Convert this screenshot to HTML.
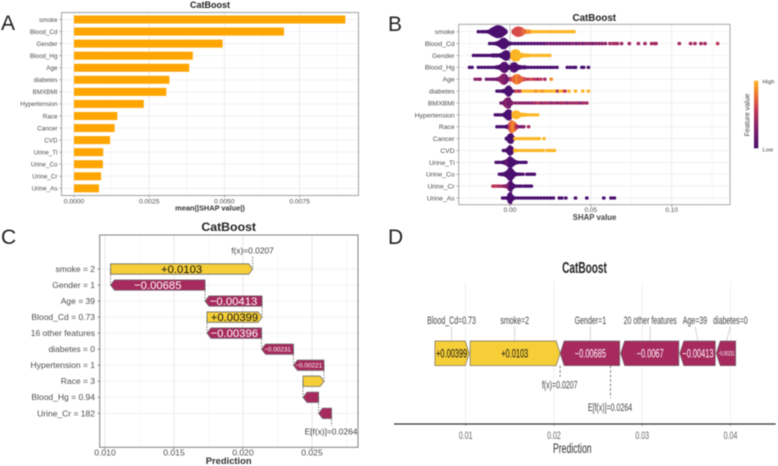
<!DOCTYPE html>
<html lang="en">
<head>
<meta charset="utf-8">
<title>CatBoost SHAP panels</title>
<style>
html,body{margin:0;padding:0;background:#fff;width:778px;height:466px;overflow:hidden}
svg{position:absolute;left:0;top:0;filter:blur(0.55px);font-family:"Liberation Sans",sans-serif}
</style>
</head>
<body>
<svg id="figure" width="778" height="466" viewBox="0 0 778 466" xmlns="http://www.w3.org/2000/svg">
  <defs>
    <linearGradient id="legendGradient" x1="0" y1="1" x2="0" y2="0">
      <stop offset="0" stop-color="#4a0e6e"/>
      <stop offset="0.35" stop-color="#8a2268"/>
      <stop offset="0.6" stop-color="#c93f52"/>
      <stop offset="0.8" stop-color="#ee7a30"/>
      <stop offset="1" stop-color="#fcb524"/>
    </linearGradient>
  </defs>

  <g id="panelA"></g>
  <g id="panelB"></g>
  <g id="panelC"></g>
  <g id="panelD"></g>

  <text x="1" y="30" font-size="21" fill="#222">A</text>
  <text x="388" y="31" font-size="21" fill="#222">B</text>
  <text x="1" y="244" font-size="21" fill="#222">C</text>
  <text x="388" y="244" font-size="21" fill="#222">D</text>

  <text x="210" y="8" font-size="9" font-weight="bold" text-anchor="middle" fill="#222">CatBoost</text>
  <text x="210" y="210.5" font-size="7.4" font-weight="bold" text-anchor="middle" fill="#333">mean(|SHAP value|)</text>

  <text x="594.3" y="21" font-size="9.8" font-weight="bold" text-anchor="middle" fill="#222">CatBoost</text>
  <text x="594.6" y="220" font-size="7.8" font-weight="bold" text-anchor="middle" fill="#444">SHAP value</text>
  <rect x="754" y="80.7" width="4.3" height="67.6" fill="url(#legendGradient)"/>
  <text x="762.5" y="83.5" font-size="5.8" fill="#444">High</text>
  <text x="762.5" y="151.5" font-size="5.8" fill="#444">Low</text>
  <text x="0" y="0" transform="translate(749.5,115) rotate(-90)" font-size="7" text-anchor="middle" fill="#444">Feature value</text>

  <text x="228.7" y="231" font-size="12.3" font-weight="bold" text-anchor="middle" fill="#222">CatBoost</text>
  <text x="228.7" y="464" font-size="9.4" font-weight="bold" text-anchor="middle" fill="#333">Prediction</text>
  <text x="252.5" y="253.5" font-size="8.4" text-anchor="middle" fill="#444">f(x)=0.0207</text>
  <text x="331" y="434.7" font-size="8.4" text-anchor="middle" fill="#444">E[f(x)]=0.0264</text>

  <text transform="translate(584.5,273) scale(0.63,1)" font-size="16" font-weight="bold" text-anchor="middle" fill="#222">CatBoost</text>
  <text transform="translate(572.3,453) scale(0.63,1)" font-size="13.8" text-anchor="middle" fill="#333">Prediction</text>
  <text transform="translate(559.7,388.5) scale(0.64,1)" font-size="11" text-anchor="middle" fill="#444">f(x)=0.0207</text>
  <text transform="translate(610,411) scale(0.64,1)" font-size="11" text-anchor="middle" fill="#444">E[f(x)]=0.0264</text>
</svg>

<script>
/* ---------- Panel A data ---------- */
const barFeatures = ['smoke','Blood_Cd','Gender','Blood_Hg','Age','diabetes','BMXBMI','Hypertension','Race','Cancer','CVD','Urine_Tl','Urine_Co','Urine_Cr','Urine_As'];
const barValues = [0.00902,0.00698,0.00494,0.00395,0.00383,0.00317,0.00307,0.00232,0.00144,0.00135,0.0012,0.00097,0.00096,0.0009,0.00083];
const barTicks = [0,0.0025,0.005,0.0075];
const barTickLabels = ['0.0000','0.0025','0.0050','0.0075'];

/* ---------- Panel B data: SHAP value, stacked observations, feature-value decile ---------- */
const swarmFeatures = ['smoke','Blood_Cd','Gender','Blood_Hg','Age','diabetes','BMXBMI','Hypertension','Race','Cancer','CVD','Urine_Tl','Urine_Co','Urine_Cr','Urine_As'];
const swarmTicks = [0,0.05,0.1];
const swarmTickLabels = ['0.00','0.05','0.10'];

const smokeShap = [-.0195,-.0175,-.016,-.0145,-.0132,-.012,-.011,-.01,-.009,-.008,-.007,-.006,-.005,-.004,-.003,-.0025,.002,.003,.004,.005,.006,.007,.008,.009,.01,.011,.012,.014,.016,.018,.02,.022,.024,.026,.028,.03,.032,.034,.036,.038,.0395];
const smokeCount = [1,1,1,1,2,4,7,9,11,13,13,12,10,7,4,1,3,6,9,10,9,8,5,3,2,2,2,1];
const smokeLevel = [0,0,0,0,0,0,0,0,0,0,0,0,0,0,0,0,6,6,6,6,6,6,7,7,7,8,8,9];

const cadmiumShap = [-.0125,-.0105,-.0085,-.0075,-.0065,-.0055,-.0045,-.0035,-.0025,-.0015,-.0005,.001,.003,.005,.007,.009,.011,.013,.015,.017,.019,.021,.023,.025,.027,.029,.031,.033,.035,.037,.039,.041,.043,.045,.047,.049,.051,.053,.055,.057,.059,.0618,.0639,.0655,.0664,.069,.0738,.0794,.0835,.0876,.0895,.0903,.1047,.1117,.1144,.1181,.1206,.1284];
const cadmiumCount = [1,1,2,3,5,8,11,11,8,4,2,1];
const cadmiumLevel = [0,0,0,0,0,0,0,0,0,0,0,0,0,0,0,0,1,1,1,1,1,1,2,2,2,2,2,2,2,2,3,2,3,2,3,3,2,3,3,3,3,4,4,4,4,4,4,4,4,4,4,4,4,4,4,4,4,5];

const genderShap = [-.0225,-.0205,-.0185,-.0165,-.0145,-.0125,-.0105,-.0085,-.0065,-.0055,-.0045,-.0035,-.0025,-.0015,-.0007,.0012,.002,.003,.004,.005,.006,.0075,.009,.011,.013,.015,.017,.019,.021,.023,.0245];
const genderCount = [1,1,1,1,1,1,2,2,2,3,5,8,10,9,4,6,10,12,12,10,5,3,2,2,1];
const genderLevel = [0,0,0,0,0,0,0,0,0,0,0,0,0,0,0,9];

const mercuryShap = [-.025,-.0235,-.0195,-.0175,-.0155,-.0135,-.0115,-.0095,-.008,-.0065,-.0055,-.0045,-.0035,-.0025,-.0015,-.0005,.0005,.0015,.0025,.0035,.0045,.0055,.007,.009,.011,.013,.015,.017,.019,.021,.023,.025,.027,.029,.0355,.0375,.0395,.0405,.0445,.0455,.0485];
const mercuryCount = [1,1,1,1,1,1,1,1,2,3,5,9,11,9,4,2,3,8,10,8,4,3,2,2,1];
const mercuryLevel = [0,0,0,0,0,0,0,0,0,0,0,1,1,1,0,0,0,0,1,0,0];

const ageShap = [-.0215,-.0195,-.0185,-.0145,-.0125,-.0105,-.009,-.0075,-.0065,-.0055,-.0045,-.0035,-.0025,-.0015,.0005,.0015,.0025,.0035,.0045,.0055,.0065,.0075,.009,.011,.013,.015,.017,.019,.0215,.0255];
const ageCount = [1,1,1,1,1,1,1,2,3,6,10,11,8,3,2,3,6,9,10,8,5,3,2,1];
const ageLevel = [3,3,3,2,2,2,2,2,3,3,3,3,2,2,5,6,7,7,8,7,7,7,6,5,6,5,4,5,4,8];

const diabetesShap = [-.008,-.0065,-.0055,-.0045,-.004,-.003,-.002,-.001,0,.0005,.0015,.0025,.0035,.0045,.0055,.0065,.008,.01,.012,.014,.016,.018,.02,.022,.024,.026,.028,.0295,.031,.033,.034,.0365,.0405,.045,.0485];
const diabetesCount = [1,1,1,1,2,3,7,11,8,4,1];
const diabetesLevel = [0,0,0,0,0,0,0,0,0,0,0,0,5,6,5,5,9,9,9,9,8,9,8,9,9,9,9,4,9,8,5,9,9,9,9];

const bmiShap = [-.0055,-.0045,-.0035,-.003,-.0025,-.0015,-.0005,.0005,.0015,.0035,.0055,.0075,.0095,.0115,.0135,.0155,.0175,.0195,.0215,.0235,.0255,.0275,.0295,.0315,.0335,.0355,.0375,.0395,.0415,.0435,.0455,.0475];
const bmiCount = [1,1,3,5,8,11,10,4,1];
const bmiLevel = [2,2,2,2,3,3,2,2,3,3,3,3,3,3,3,4,5,3,4,4,3,4,3,4,4,3,4,4,4,3,4,4];

const hypertensionShap = [-.009,-.0075,-.006,-.0045,-.0035,-.003,-.002,-.001,0,.0005,.002,.003,.004,.005,.006,.0075,.009,.011,.013,.015,.017];
const hypertensionCount = [1,1,1,1,2,4,8,11,9,3,4,7,8,6,3,2,2,1];
const hypertensionLevel = [0,0,0,0,0,0,0,0,0,0,9];

const raceShap = [-.008,-.0065,-.005,-.0035,-.002,-.001,0,.001,.002,.003,.004,.005,.0065,.008,.0085,.0115];
const raceCount = [1,1,1,1,2,3,8,13,11,8,3,1];
const raceLevel = [0,0,0,0,0,1,6,7,8,7,5,3,2,2,3,4];

const cancerShap = [-.0022,-.0015,-.0005,.0005,.001,.0018,.003,.005,.007,.009,.011,.013,.015,.017,.018,.021];
const cancerCount = [1,3,8,10,9,4,1];
const cancerLevel = [0,0,0,0,0,0,9];

const cvdShap = [-.004,-.003,-.002,-.001,0,.001,.0018,.003,.005,.007,.009,.011,.013,.015,.017,.019,.0205,.023,.0245,.026,.0275];
const cvdCount = [1,1,2,6,10,7,2,2,1];
const cvdLevel = [0,0,0,0,0,0,0,9];

const thalliumShap = [-.0085,-.007,-.0055,-.004,-.003,-.002,-.001,0,.001,.002,.003,.004,.0055,.007,.0085,.0098];
const thalliumCount = [1,1,1,2,3,5,8,12,9,6,3,2,1];
const thalliumLevel = [0,0,0,0,0,2,1,0];

const cobaltShap = [-.0065,-.0055,-.0045,-.0035,-.0025,-.0015,-.0005,.0005,.0015,.0025,.0035,.0045,.0055,.0065,.008,.0105,.012,.0135,.015];
const cobaltCount = [1,1,2,2,4,7,12,13,9,4,2,1];
const cobaltLevel = [0];

const creatinineShap = [-.0105,-.0095,-.008,-.0065,-.0055,-.0045,-.0035,-.0025,-.0015,-.0005,.0005,.0015,.0025,.004,.0055,.007,.009,.0105,.012,.0132];
const creatinineCount = [1,1,1,1,1,1,1,2,3,8,11,5,2,1];
const creatinineLevel = [5,5,5,4,5,4,3,3,3,2,0];

const arsenicShap = [-.0045,-.0035,-.0025,-.0015,-.0005,.0003,.0012,.002,.003,.005,.007,.009,.011,.013,.015,.017,.019,.021,.023,.025,.0268,.0305,.032,.0345,.0405,.0475,.058,.0625,.0645];
const arsenicCount = [1,1,1,2,9,12,5,2,1];
const arsenicLevel = [0];

const swarmShap = [smokeShap,cadmiumShap,genderShap,mercuryShap,ageShap,diabetesShap,bmiShap,hypertensionShap,raceShap,cancerShap,cvdShap,thalliumShap,cobaltShap,creatinineShap,arsenicShap];
const swarmCount = [smokeCount,cadmiumCount,genderCount,mercuryCount,ageCount,diabetesCount,bmiCount,hypertensionCount,raceCount,cancerCount,cvdCount,thalliumCount,cobaltCount,creatinineCount,arsenicCount];
const swarmLevel = [smokeLevel,cadmiumLevel,genderLevel,mercuryLevel,ageLevel,diabetesLevel,bmiLevel,hypertensionLevel,raceLevel,cancerLevel,cvdLevel,thalliumLevel,cobaltLevel,creatinineLevel,arsenicLevel];

/* ---------- Panel C data ---------- */
const waterfallLabels = ['smoke = 2','Gender = 1','Age = 39','Blood_Cd = 0.73','16 other features','diabetes = 0','Hypertension = 1','Race = 3','Blood_Hg = 0.94','Urine_Cr = 182'];
const waterfallValues = [0.0103,-0.00685,-0.00413,0.00399,-0.00396,-0.00231,-0.00221,0.00152,-0.00113,-0.00094];
const waterfallPrinted = ['+0.0103','\u22120.00685','\u22120.00413','+0.00399','\u22120.00396','\u22120.00231','\u22120.00221','','',''];
const waterfallPrediction = [0.0207];
const waterfallTicks = [0.01,0.015,0.02,0.025];
const waterfallTickLabels = ['0.010','0.015','0.020','0.025'];

/* ---------- Panel D data ---------- */
const forceLabels = ['Blood_Cd=0.73','smoke=2','Gender=1','20 other features','Age=39','diabetes=0'];
const forceValues = [0.00399,0.0103,-0.00685,-0.0067,-0.00413,-0.00231];
const forcePrinted = ['+0.00399','+0.0103','\u22120.00685','\u22120.0067','\u22120.00413','\u22120.00231'];
const forcePrediction = [0.0207];
const forceExpected = [0.0264];
const forceTicks = [0.01,0.02,0.03,0.04];
const forceTickLabels = ['0.01','0.02','0.03','0.04'];

/* ---------- Helpers ---------- */
const NS = 'http://www.w3.org/2000/svg';
function make(parent, tag, attrs, content) {
  const node = document.createElementNS(NS, tag);
  for (const key in attrs) node.setAttribute(key, attrs[key]);
  if (content !== undefined) node.textContent = content;
  parent.appendChild(node);
  return node;
}
const GOLD = '#f6ce38', MAROON = '#a62a5e', TEXT = '#4d4d4d';
const colorStops = [[74,14,110],[90,18,112],[114,26,110],[138,34,104],[163,42,98],[187,53,88],[214,74,76],[231,105,58],[245,143,39],[252,181,36]];
function levelColor(level) {
  const c = colorStops[Math.max(0, Math.min(9, Math.round(level)))];
  return 'rgb(' + c.join(',') + ')';
}

/* ---------- Panel A ---------- */
(function () {
  const g = document.getElementById('panelA');
  const left = 61.5, right = 358.5, top = 12.5, bottom = 195.5;
  const xA = v => 74 + v * 30080;
  const yA = i => 19.5 + i * 12.06;
  barTicks.forEach((t, i) => {
    const major = make(g, 'line', {x1: xA(t), x2: xA(t), y1: top, y2: bottom, stroke: '#e6e6e6', 'stroke-width': 0.8});
    
    
    const minor = make(g, 'line', {x1: xA(t + 0.00125), x2: xA(t + 0.00125), y1: top, y2: bottom, stroke: '#f1f1f1', 'stroke-width': 0.5});
    
    
    const tick = make(g, 'line', {x1: xA(t), x2: xA(t), y1: bottom, y2: bottom + 2, stroke: '#666', 'stroke-width': 0.6});
    
    
    const label = make(g, 'text', {x: xA(t), y: 203.3, 'font-size': 6.7, 'text-anchor': 'middle', fill: TEXT}, barTickLabels[i]);
    
    
  });
  barFeatures.forEach((name, i) => {
    const y = yA(i);
    const grid = make(g, 'line', {x1: left, x2: right, y1: y, y2: y, stroke: '#ececec', 'stroke-width': 0.7});
    
    
    const tick = make(g, 'line', {x1: left - 2, x2: left, y1: y, y2: y, stroke: '#666', 'stroke-width': 0.6});
    
    
    const label = make(g, 'text', {x: 57.5, y: y + 2.3, 'font-size': 6.3, 'text-anchor': 'end', fill: TEXT}, name);
    
    
    const bar = make(g, 'rect', {x: xA(0), y: y - 4, width: xA(barValues[i]) - xA(0), height: 8, fill: '#ffa500'});
    
    
  });
  const frame = make(g, 'rect', {x: left, y: top, width: right - left, height: bottom - top, fill: 'none', stroke: '#a0a0a0', 'stroke-width': 1});
  
  
})();

/* ---------- Panel B ---------- */
(function () {
  const g = document.getElementById('panelB');
  const left = 458.7, right = 730, top = 24.3, bottom = 204.7;
  const xB = v => 510 + v * 1617;
  const yB = i => 31.7 + i * 11.88;
  [-0.025, 0.025, 0.075, 0.125].forEach(v => {
    const minor = make(g, 'line', {x1: xB(v), x2: xB(v), y1: top, y2: bottom, stroke: '#f1f1f1', 'stroke-width': 0.5});
    
    
  });
  swarmTicks.forEach((t, i) => {
    const major = make(g, 'line', {x1: xB(t), x2: xB(t), y1: top, y2: bottom, stroke: t === 0 ? '#bdbdbd' : '#e6e6e6', 'stroke-width': 0.8});
    
    
    const tick = make(g, 'line', {x1: xB(t), x2: xB(t), y1: bottom, y2: bottom + 2, stroke: '#666', 'stroke-width': 0.6});
    
    
    const label = make(g, 'text', {x: xB(t), y: 212, 'font-size': 6.5, 'text-anchor': 'middle', fill: TEXT}, swarmTickLabels[i]);
    
    
  });
  swarmFeatures.forEach((name, i) => {
    const y = yB(i);
    const grid = make(g, 'line', {x1: left, x2: right, y1: y, y2: y, stroke: '#ececec', 'stroke-width': 0.7});
    
    
    const tick = make(g, 'line', {x1: left - 2, x2: left, y1: y, y2: y, stroke: '#666', 'stroke-width': 0.6});
    
    
    const label = make(g, 'text', {x: 454.7, y: y + 2.4, 'font-size': 6.8, 'text-anchor': 'end', fill: TEXT}, name);
    
    
    const shap = swarmShap[i], counts = swarmCount[i], levels = swarmLevel[i];
    shap.forEach((value, j) => {
      const count = counts[j] === undefined ? 1 : counts[j];
      const level = levels[j] === undefined ? levels[levels.length - 1] : levels[j];
      const half = 0.4 * count + 1.25;
      const dot = make(g, 'rect', {x: xB(value) - 1.8, y: y - half, width: 3.6, height: half * 2, rx: 1.1, fill: levelColor(level)});
      
      
    });
  });
  const frame = make(g, 'rect', {x: left, y: top, width: right - left, height: bottom - top, fill: 'none', stroke: '#a8a8a8', 'stroke-width': 1});
  
  
})();

/* ---------- Panel C ---------- */
(function () {
  const g = document.getElementById('panelC');
  const left = 99.7, right = 358, top = 235, bottom = 447.3;
  const xC = v => 105 + (v - 0.01) * 13800;
  const yC = i => 269 + i * 16.04;
  waterfallTicks.forEach((t, i) => {
    const major = make(g, 'line', {x1: xC(t), x2: xC(t), y1: top, y2: bottom, stroke: '#e4e4e4', 'stroke-width': 0.8});
    
    
    const minor = make(g, 'line', {x1: xC(t + 0.0025), x2: xC(t + 0.0025), y1: top, y2: bottom, stroke: '#f0f0f0', 'stroke-width': 0.5});
    
    
    const tick = make(g, 'line', {x1: xC(t), x2: xC(t), y1: bottom, y2: bottom + 2, stroke: '#555', 'stroke-width': 0.7});
    
    
    const label = make(g, 'text', {x: xC(t), y: 455.4, 'font-size': 8.6, 'text-anchor': 'middle', fill: TEXT}, waterfallTickLabels[i]);
    
    
  });
  let cumulative = waterfallPrediction[0];
  const top0 = make(g, 'line', {x1: xC(cumulative), x2: xC(cumulative), y1: 256.7, y2: yC(0), stroke: '#555', 'stroke-width': 0.8, 'stroke-dasharray': '1.5 1.5'});
  
  
  waterfallLabels.forEach((name, i) => {
    const y = yC(i);
    const grid = make(g, 'line', {x1: left, x2: right, y1: y, y2: y, stroke: '#ececec', 'stroke-width': 0.7});
    
    
    const tick = make(g, 'line', {x1: left - 2, x2: left, y1: y, y2: y, stroke: '#555', 'stroke-width': 0.7});
    
    
    const label = make(g, 'text', {x: 95, y: y + 2.9, 'font-size': 8.5, 'text-anchor': 'end', fill: TEXT}, name);
    
    
  });
  waterfallLabels.forEach((name, i) => {
    const y = yC(i), value = waterfallValues[i], h = 5.2, tip = 4;
    const next = cumulative - value;
    const a = xC(cumulative), b = xC(next), dir = value > 0 ? -1 : 1;
    const pts = [[b, y - h], [a + dir * tip, y - h], [a, y], [a + dir * tip, y + h], [b, y + h]];
    const arrow = make(g, 'polygon', {points: pts.map(p => p.join(',')).join(' '), fill: value > 0 ? GOLD : MAROON, stroke: '#6d6d6d', 'stroke-width': 0.8});
    
    
    const nextY = i < waterfallLabels.length - 1 ? yC(i + 1) : 426;
    const link = make(g, 'line', {x1: b, x2: b, y1: y, y2: nextY, stroke: '#555', 'stroke-width': 0.8, 'stroke-dasharray': '1.5 1.5'});
    
    
    const printed = waterfallPrinted[i];
    if (printed) {
      const size = Math.abs(value) >= 0.003 ? 11.3 : 6.4;
      const valueLabel = make(g, 'text', {x: (a + b) / 2, y: y + size * 0.36, 'font-size': size, 'text-anchor': 'middle', fill: value > 0 ? '#111' : '#fff'}, printed);
      
      
    }
    cumulative = next;
  });
  const frame = make(g, 'rect', {x: left, y: top, width: right - left, height: bottom - top, fill: 'none', stroke: '#808080', 'stroke-width': 1});
  
  
})();

/* ---------- Panel D ---------- */
(function () {
  const g = document.getElementById('panelD');
  const xD = v => 465.7 + (v - 0.01) * 8827;
  const barTop = 341, barBottom = 365.7, barMid = 353.35, tip = 4;
  const labelShift = [0, 0, 0, 0, -3, 4];
  forceTicks.forEach((t, i) => {
    const grid = make(g, 'line', {x1: xD(t), x2: xD(t), y1: 281.7, y2: 424, stroke: '#ececec', 'stroke-width': 0.8});
    
    
    const tick = make(g, 'line', {x1: xD(t), x2: xD(t), y1: 424, y2: 426, stroke: '#777', 'stroke-width': 0.6});
    
    
    const label = make(g, 'text', {transform: 'translate(' + xD(t) + ',439) scale(0.64,1)', 'font-size': 11, 'text-anchor': 'middle', fill: '#666'}, forceTickLabels[i]);
    
    
  });
  const axis = make(g, 'line', {x1: 394, x2: 775.7, y1: 424, y2: 424, stroke: '#333', 'stroke-width': 1.2});
  
  

  const edges = [];
  let high = forcePrediction[0];
  for (let i = forceValues.length - 1; i >= 0; i--) {
    if (forceValues[i] > 0) { edges[i] = [high - forceValues[i], high]; high -= forceValues[i]; }
  }
  let low = forcePrediction[0];
  forceValues.forEach((value, i) => {
    if (value < 0) { edges[i] = [low, low - value]; low -= value; }
  });

  forceLabels.forEach((name, i) => {
    const value = forceValues[i];
    const a = xD(edges[i][0]), b = xD(edges[i][1]), mid = (a + b) / 2, gap = 0.9;
    const pts = value > 0
      ? [[a + gap, barTop], [b - tip, barTop], [b, barMid], [b - tip, barBottom], [a + gap, barBottom]]
      : [[a, barMid], [a + tip, barTop], [b - gap, barTop], [b - gap, barBottom], [a + tip, barBottom]];
    const labelX = mid + labelShift[i];
    const leader = make(g, 'line', {x1: labelX, x2: mid, y1: 326.5, y2: barTop, stroke: '#bbb', 'stroke-width': 0.6});
    
    
    const seg = make(g, 'polygon', {points: pts.map(p => p.join(',')).join(' '), fill: value > 0 ? GOLD : MAROON, stroke: '#6d6d6d', 'stroke-width': 0.7});
    
    
    const label = make(g, 'text', {transform: 'translate(' + labelX + ',323.8) scale(0.64,1)', 'font-size': 11, 'text-anchor': 'middle', fill: '#444'}, name);
    
    
    const size = Math.abs(value) >= 0.003 ? 11.6 : 6.2;
    const printed = make(g, 'text', {transform: 'translate(' + mid + ',' + (barMid + size * 0.36) + ') scale(0.64,1)', 'font-size': size, 'text-anchor': 'middle', fill: value > 0 ? '#111' : '#fff'}, forcePrinted[i]);
    
    
  });

  const fxLine = make(g, 'line', {x1: xD(forcePrediction[0]), x2: xD(forcePrediction[0]), y1: barBottom, y2: 376.7, stroke: '#555', 'stroke-width': 0.8, 'stroke-dasharray': '2.5 2'});
  
  
  const eLine = make(g, 'line', {x1: xD(forceExpected[0]), x2: xD(forceExpected[0]), y1: barBottom, y2: 398, stroke: '#555', 'stroke-width': 0.8, 'stroke-dasharray': '2.5 2'});
  
  
})();
</script>
</body>
</html>
